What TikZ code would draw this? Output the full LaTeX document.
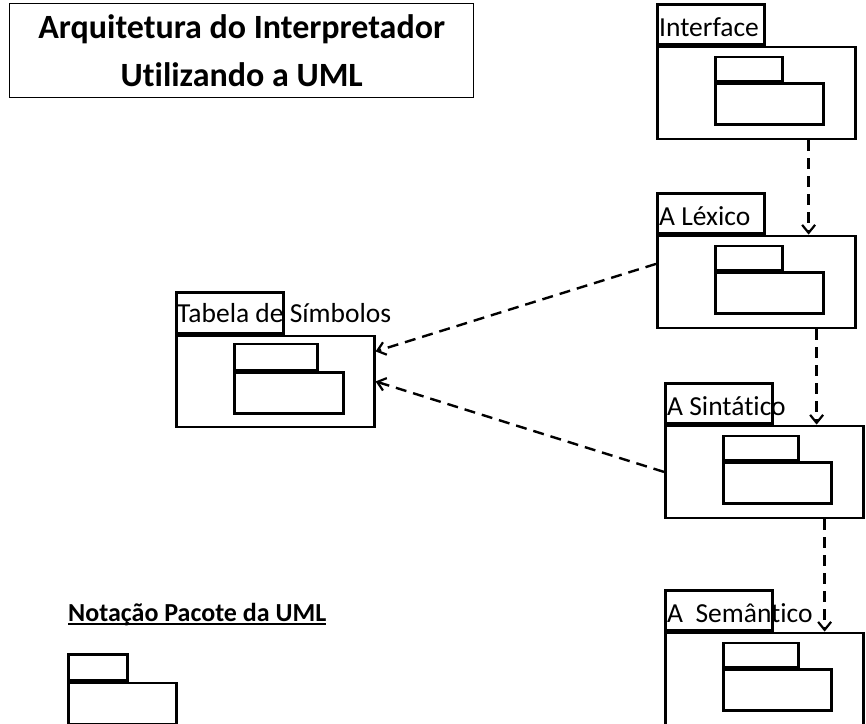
\documentclass[tikz,border=0pt]{standalone}
\usepackage{fontspec}
\setmainfont{Carlito}[Ligatures={NoCommon}, RawFeature={-calt}]
\usetikzlibrary{arrows.meta, positioning}

\begin{document}
\begin{tikzpicture}
  [x=1pt, y=-1pt,
   box/.style={draw, line width=2.6pt, inner sep=0pt, anchor=north west},
   pkgname/.style={anchor=base west, inner sep=0pt, font=\fontsize{27.5}{30}\selectfont},
   dep/.style={line width=2.4pt, dash pattern=on 11pt off 7pt,
     -{Straight Barb[length=8pt, width=13pt, line width=2.2pt]}}]
  \useasboundingbox (0,0) rectangle (866,723);

  % title
  \node (title) [draw, line width=1.4pt, minimum width=464pt, minimum height=94pt,
    anchor=north west, align=center, font=\bfseries\fontsize{34}{48}\selectfont]
    at (9,3) {Arquitetura do Interpretador\\Ut\kern0pt ilizando a UML};

  % packages on the right
  \foreach \n/\x/\y/\s/\t in {iface/656/3/67/Interface, lex/656/192/67/A Léxico,
                              sin/664/382/75/A Sintático, sem/664/589/75/A\ \ Semântico}{
    \node (\n tab) [box, minimum width=107pt, minimum height=40pt] at (\x,\y) {};
    \node (\n body) [box, minimum width=198pt, minimum height=92pt] at (\n tab.south west) {};
    \node (\n small) [box, minimum width=\s pt, minimum height=24pt]
      at ([xshift=58pt, yshift=-10pt]\n body.north west) {};
    \node (\n big) [box, minimum width=108pt, minimum height=41pt] at (\n small.south west) {};
    \node (\n name) [pkgname] at ([xshift=3pt, yshift=9pt]\n tab.south west) {\t};
  }

  % symbol table
  \node (symtab) [box, minimum width=107pt, minimum height=41pt] at (175,291) {};
  \node (symbody) [box, minimum width=198pt, minimum height=91pt] at (symtab.south west) {};
  \node (symsmall) [box, minimum width=83pt, minimum height=26pt]
    at ([xshift=58pt, yshift=-8pt]symbody.north west) {};
  \node (symbig) [box, minimum width=109pt, minimum height=41pt] at (symsmall.south west) {};
  \node (symname) [pkgname] at ([xshift=2pt, yshift=12pt]symtab.south west) {Tabela de Símbolos};

  % notation
  \node (notation) [anchor=base west, inner sep=0pt, font=\bfseries\fontsize{26}{30}\selectfont]
    at (68,621) {Notação Pacote da UML};
  \draw [line width=1.6pt] ([yshift=-3pt]notation.base west) -- ([yshift=-3pt]notation.base east);
  \node (nottab) [box, minimum width=59pt, minimum height=26pt] at (67,653) {};
  \node (notbody) [box, minimum width=108pt, minimum height=41pt] at (nottab.south west) {};

  % dependencies
  \draw [dep] ([xshift=-48pt]ifacebody.south east) -- ([xshift=-48pt]ifacebody.south east |- lexbody.north);
  \draw [dep] ([xshift=-40pt]lexbody.south east) -- ([xshift=-40pt]lexbody.south east |- sinbody.north);
  \draw [dep] ([xshift=-40pt]sinbody.south east) -- ([xshift=-40pt]sinbody.south east |- sembody.north);
  \draw [dep] ([yshift=18pt]lexbody.west) -- ([yshift=30pt]symbody.east);
  \draw [dep] (sinbody.west) -- (symbody.east);
\end{tikzpicture}
\end{document}
